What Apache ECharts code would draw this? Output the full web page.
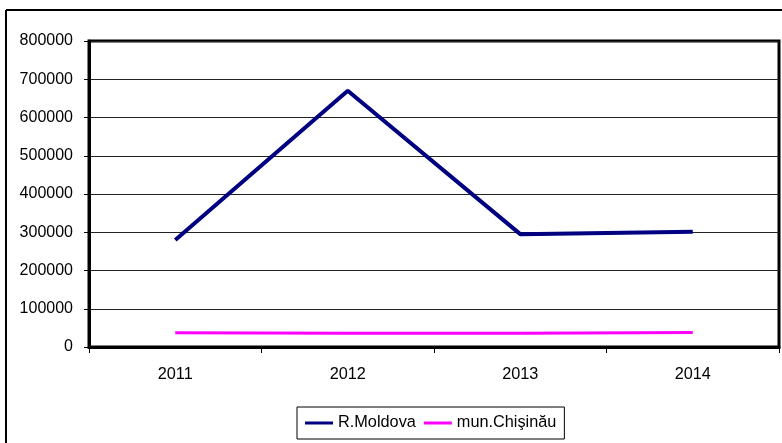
<!DOCTYPE html>
<html>
<head>
<meta charset="utf-8">
<script src="https://cdn.jsdelivr.net/npm/echarts@6/dist/echarts.min.js"></script>
<style>
html,body{margin:0;padding:0;background:#fff;}
#chart{width:782px;height:443px;}
</style>
</head>
<body>
<div id="chart"></div>
<script>
const years = ['2011', '2012', '2013', '2014'];
const moldova = [280000, 670000, 295000, 301000];
const chisinau = [37000, 36000, 36000, 38000];
const seriesNames = ['R.Moldova', 'mun.Chişinău'];

const chart = echarts.init(document.getElementById('chart'), null, {renderer: 'canvas'});
const font = 'Liberation Sans, Arial, sans-serif';
chart.setOption({
  backgroundColor: '#fff',
  animation: false,
  textStyle: {fontFamily: font},
  grid: {
    left: 89, right: 3, top: 41, bottom: 96,
    show: true, borderColor: '#000', borderWidth: 3, backgroundColor: 'transparent'
  },
  graphic: [
    {type: 'line', shape: {x1: 6, y1: 10, x2: 782, y2: 10}, style: {stroke: '#000', lineWidth: 2}},
    {type: 'line', shape: {x1: 6, y1: 10, x2: 6, y2: 443}, style: {stroke: '#000', lineWidth: 2}}
  ],
  legend: {
    data: seriesNames.map(n => ({name: n, icon: 'rect'})),
    left: 297, top: 407,
    padding: [8, 8, 8, 8],
    itemWidth: 28, itemHeight: 3, itemGap: 8,
    borderColor: '#000', borderWidth: 1,
    textStyle: {fontSize: 16.3, color: '#000', fontFamily: font}
  },
  xAxis: {
    type: 'category',
    data: years,
    boundaryGap: true,
    axisLine: {show: true, lineStyle: {color: '#000', width: 3}},
    axisTick: {show: true, length: 6, lineStyle: {color: '#000', width: 1}},
    axisLabel: {color: '#000', fontSize: 16.3, margin: 20, fontFamily: font},
    splitLine: {show: false}
  },
  yAxis: {
    type: 'value',
    min: 0, max: 800000, interval: 100000,
    axisLine: {show: true, lineStyle: {color: '#000', width: 3}},
    axisTick: {show: true, length: 5, lineStyle: {color: '#000', width: 1}},
    axisLabel: {color: '#000', fontSize: 16, margin: 16, fontFamily: font, formatter: v => String(v)},
    splitLine: {show: true, lineStyle: {color: '#222', width: 1}}
  },
  series: [
    {
      name: seriesNames[0], type: 'line', data: moldova,
      symbol: 'none', lineStyle: {color: '#000080', width: 4}, itemStyle: {color: '#000080'}
    },
    {
      name: seriesNames[1], type: 'line', data: chisinau,
      symbol: 'none', lineStyle: {color: '#FF00FF', width: 3}, itemStyle: {color: '#FF00FF'}
    }
  ]
});
</script>
</body>
</html>
